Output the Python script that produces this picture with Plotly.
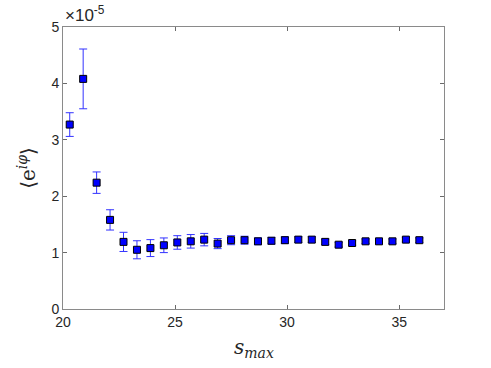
import plotly.graph_objects as go

s_max = [20.3, 20.9, 21.5, 22.1, 22.7, 23.3, 23.9, 24.5, 25.1, 25.7, 26.3, 26.9, 27.5, 28.1,
         28.7, 29.3, 29.9, 30.5, 31.1, 31.7, 32.3, 32.9, 33.5, 34.1, 34.7, 35.3, 35.9]
mean_val = [3.27, 4.08, 2.24, 1.58, 1.19, 1.05, 1.08, 1.13, 1.18, 1.20, 1.23, 1.16, 1.22, 1.22,
            1.20, 1.21, 1.22, 1.23, 1.23, 1.19, 1.14, 1.17, 1.20, 1.20, 1.20, 1.23, 1.22]
err_val = [0.21, 0.53, 0.19, 0.18, 0.17, 0.16, 0.15, 0.13, 0.12, 0.12, 0.11, 0.09, 0.08, 0.07,
           0.06, 0.06, 0.06, 0.05, 0.05, 0.05, 0.04, 0.04, 0.04, 0.04, 0.04, 0.04, 0.04]
x_ticks = [20, 25, 30, 35]
y_ticks = [0, 1, 2, 3, 4, 5]

fig = go.Figure()
fig.add_trace(go.Scatter(
    x=s_max, y=mean_val, mode="markers",
    marker=dict(symbol="square", size=7, color="#0000ff", line=dict(color="black", width=1)),
    error_y=dict(type="data", array=err_val, visible=True, color="#3333ff", thickness=1, width=4),
    showlegend=False,
))

axis_common = dict(
    showgrid=False, zeroline=False, showline=True, linecolor="#8a8a8a", linewidth=1,
    mirror="ticks", ticks="inside", ticklen=4, tickcolor="#6a6a6a",
    tickfont=dict(family="Liberation Sans, Arial, sans-serif", size=14, color="#262626"),
)
fig.update_xaxes(range=[20, 37], tickvals=x_ticks, **axis_common)
fig.update_yaxes(range=[0, 5], tickvals=y_ticks, **axis_common)

fig.update_layout(
    width=491, height=368,
    margin=dict(l=63, r=47, t=27, b=59),
    plot_bgcolor="white", paper_bgcolor="white",
    annotations=[
        dict(text="×10<sup>-5</sup>", xref="paper", yref="paper", x=0.0, y=1.0,
             xanchor="left", yanchor="bottom", showarrow=False,
             font=dict(family="Liberation Sans, Arial, sans-serif", size=17, color="#262626")),
        dict(text="<i>s</i><sub><i>max</i></sub>", xref="paper", yref="paper", x=0.5, y=-0.19,
             xanchor="center", yanchor="bottom", showarrow=False,
             font=dict(family="DejaVu Serif, serif", size=20, color="#262626")),
        dict(text="⟨e<sup><i>iφ</i></sup>⟩", xref="paper", yref="paper", x=-0.095, y=0.5,
             xanchor="center", yanchor="middle", showarrow=False, textangle=-90,
             font=dict(family="DejaVu Serif, serif", size=20, color="#262626")),
    ],
)

fig.write_html("out.html", config={"displayModeBar": False},
               post_script="document.body.style.margin='0';")
